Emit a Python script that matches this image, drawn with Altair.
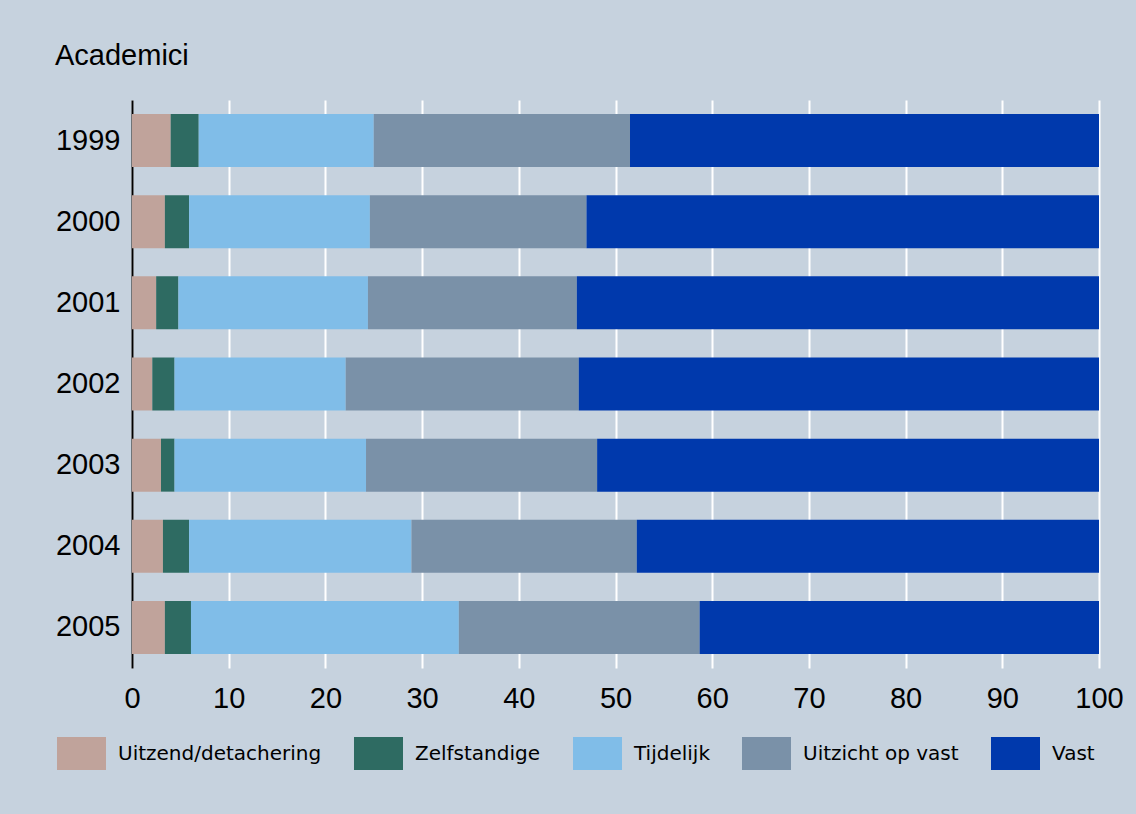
import altair as alt
import pandas as pd

years = ["1999", "2000", "2001", "2002", "2003", "2004", "2005"]
categories = ["Uitzend/detachering", "Zelfstandige", "Tijdelijk", "Uitzicht op vast", "Vast"]
colors = ["#c0a39b", "#2e6b62", "#80bde8", "#7a91a8", "#0039ac"]

uitzend = [4.0, 3.4, 2.5, 2.1, 3.0, 3.2, 3.4]
zelfstandige = [2.9, 2.5, 2.3, 2.3, 1.4, 2.7, 2.7]
tijdelijk = [18.1, 18.7, 19.6, 17.7, 19.8, 23.0, 27.7]
uitzicht = [26.5, 22.4, 21.6, 24.1, 23.9, 23.3, 24.9]
vast = [48.5, 53.0, 54.0, 53.8, 51.9, 47.8, 41.3]

x_ticks = [0, 10, 20, 30, 40, 50, 60, 70, 80, 90, 100]

series = [uitzend, zelfstandige, tijdelijk, uitzicht, vast]
rows = []
for ci, (cat, vals) in enumerate(zip(categories, series)):
    for y, v in zip(years, vals):
        rows.append({"jaar": y, "categorie": cat, "waarde": v, "volgorde": ci})
df = pd.DataFrame(rows)

FONT = "Liberation Sans"
LFONT = "DejaVu Sans"
BG = "#c6d2de"

chart = alt.Chart(df).mark_bar(size=53).encode(
    y=alt.Y("jaar:N", sort=years, title=None,
            axis=alt.Axis(labelFontSize=29, labelColor="black", labelFont=FONT,
                          domain=True, domainColor="black", domainWidth=2,
                          ticks=False, labelPadding=12, grid=False)),
    x=alt.X("waarde:Q", stack="zero", title=None,
            scale=alt.Scale(domain=[0, 100], nice=False),
            axis=alt.Axis(values=x_ticks, labelFontSize=29, labelColor="black", labelFont=FONT,
                          labelFlush=False, labelOverlap=False,
                          domain=False, ticks=False, labelPadding=16,
                          grid=True, gridColor="white", gridWidth=2)),
    color=alt.Color("categorie:N", sort=categories,
                    scale=alt.Scale(domain=categories, range=colors),
                    legend=alt.Legend(title=None, orient="none", legendX=-67, legendY=637,
                                      direction="horizontal", columns=5,
                                      symbolType="M-1.485,-1H1.485V1H-1.485Z",
                                      symbolSize=1089, symbolStrokeWidth=0, symbolOpacity=1,
                                      labelFontSize=20, labelFont=LFONT, labelColor="black",
                                      labelLimit=400,
                                      labelOffset=20, columnPadding=31, padding=0)),
    order=alt.Order("volgorde:Q"),
).properties(
    width=967,
    height=568,
    title=alt.TitleParams("Academici", anchor="start", frame="group", dx=-77,
                          fontSize=29, font=FONT, fontWeight="normal", color="black",
                          offset=6, baseline="alphabetic"),
    background=BG,
    padding={"left": 132, "top": 100, "right": 37, "bottom": 146},
    autosize=alt.AutoSizeParams(type="none"),
).configure_view(stroke=None)

chart.save("out.html", embed_options={"renderer": "svg", "actions": False})
